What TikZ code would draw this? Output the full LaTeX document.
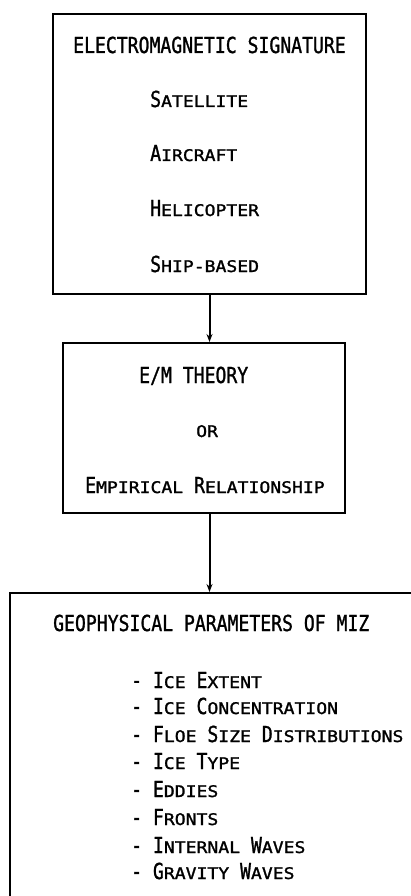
\documentclass[tikz,border=0pt]{standalone}
\usepackage{fontspec}
\usetikzlibrary{arrows.meta}
\newfontfamily\bigfam{DejaVu Sans Mono}[FakeStretch=0.823, FakeBold=1.2]
\newfontfamily\smfam{DejaVu Sans Mono}[FakeStretch=1.13, FakeBold=1.5]
\newcommand\Bg{\bigfam\fontsize{22}{22}\selectfont}
\newcommand\Sm{\smfam\fontsize{16}{16}\selectfont}
\newcommand\W[2]{{\Bg #1}{\Sm #2}}
\begin{document}
\begin{tikzpicture}[x=1pt,y=1pt,
  box/.style={draw, line width=2pt, rectangle, inner sep=0pt},
  txt/.style={anchor=base west, inner sep=0pt, font=\Sm},
  conn/.style={line width=2pt, -{Stealth[length=8pt,width=6pt]}}]
\useasboundingbox (0,0) rectangle (411,-896);
% boxes
\node[box, minimum width=313pt, minimum height=280pt] (b1) at (209.5,-154) {};
\node[box, minimum width=282pt, minimum height=170pt] (b2) at (204,-428) {};
\node[box, minimum width=402pt, minimum height=312pt] (b3) at (211,-749) {};
% connectors
\draw[conn] (b1.south) -- (b1.south |- b2.north);
\draw[conn] (b1.south |- b2.south) -- (b1.south |- b3.north);
% box 1 text
\node[txt] (t1) at (73,-53) {\Bg ELECTROMAGNETIC SIGNATURE};
\node[txt] (t2) at (150,-107) {\W{S}{ATELLITE}};
\node[txt] (t3) at (150,-161) {\W{A}{IRCRAFT}};
\node[txt] (t4) at (150,-216) {\W{H}{ELICOPTER}};
\node[txt] (t5) at (150,-272) {\W{S}{HIP-BASED}};
% box 2 text
\node[txt] (u1) at (139,-383) {\Bg E/M THEORY};
\node[txt] (u2) at (196,-437) {OR};
\node[txt] (u3) at (85,-493) {\W{E}{MPIRICAL} \W{R}{ELATIONSHIP}};
% box 3 text
\node[txt] (v0) at (53,-631) {\Bg GEOPHYSICAL PARAMETERS OF MIZ};
\node[txt] (v1) at (131,-688) {{\Bg -} \W{I}{CE} \W{E}{XTENT}};
\node[txt] (v2) at (131,-714) {{\Bg -} \W{I}{CE} \W{C}{ONCENTRATION}};
\node[txt] (v3) at (131,-742) {{\Bg -} \W{F}{LOE} \W{S}{IZE} \W{D}{ISTRIBUTIONS}};
\node[txt] (v4) at (131,-769) {{\Bg -} \W{I}{CE} \W{T}{YPE}};
\node[txt] (v5) at (131,-797) {{\Bg -} \W{E}{DDIES}};
\node[txt] (v6) at (131,-825) {{\Bg -} \W{F}{RONTS}};
\node[txt] (v7) at (131,-853) {{\Bg -} \W{I}{NTERNAL} \W{W}{AVES}};
\node[txt] (v8) at (131,-879) {{\Bg -} \W{G}{RAVITY} \W{W}{AVES}};
\end{tikzpicture}
\end{document}
